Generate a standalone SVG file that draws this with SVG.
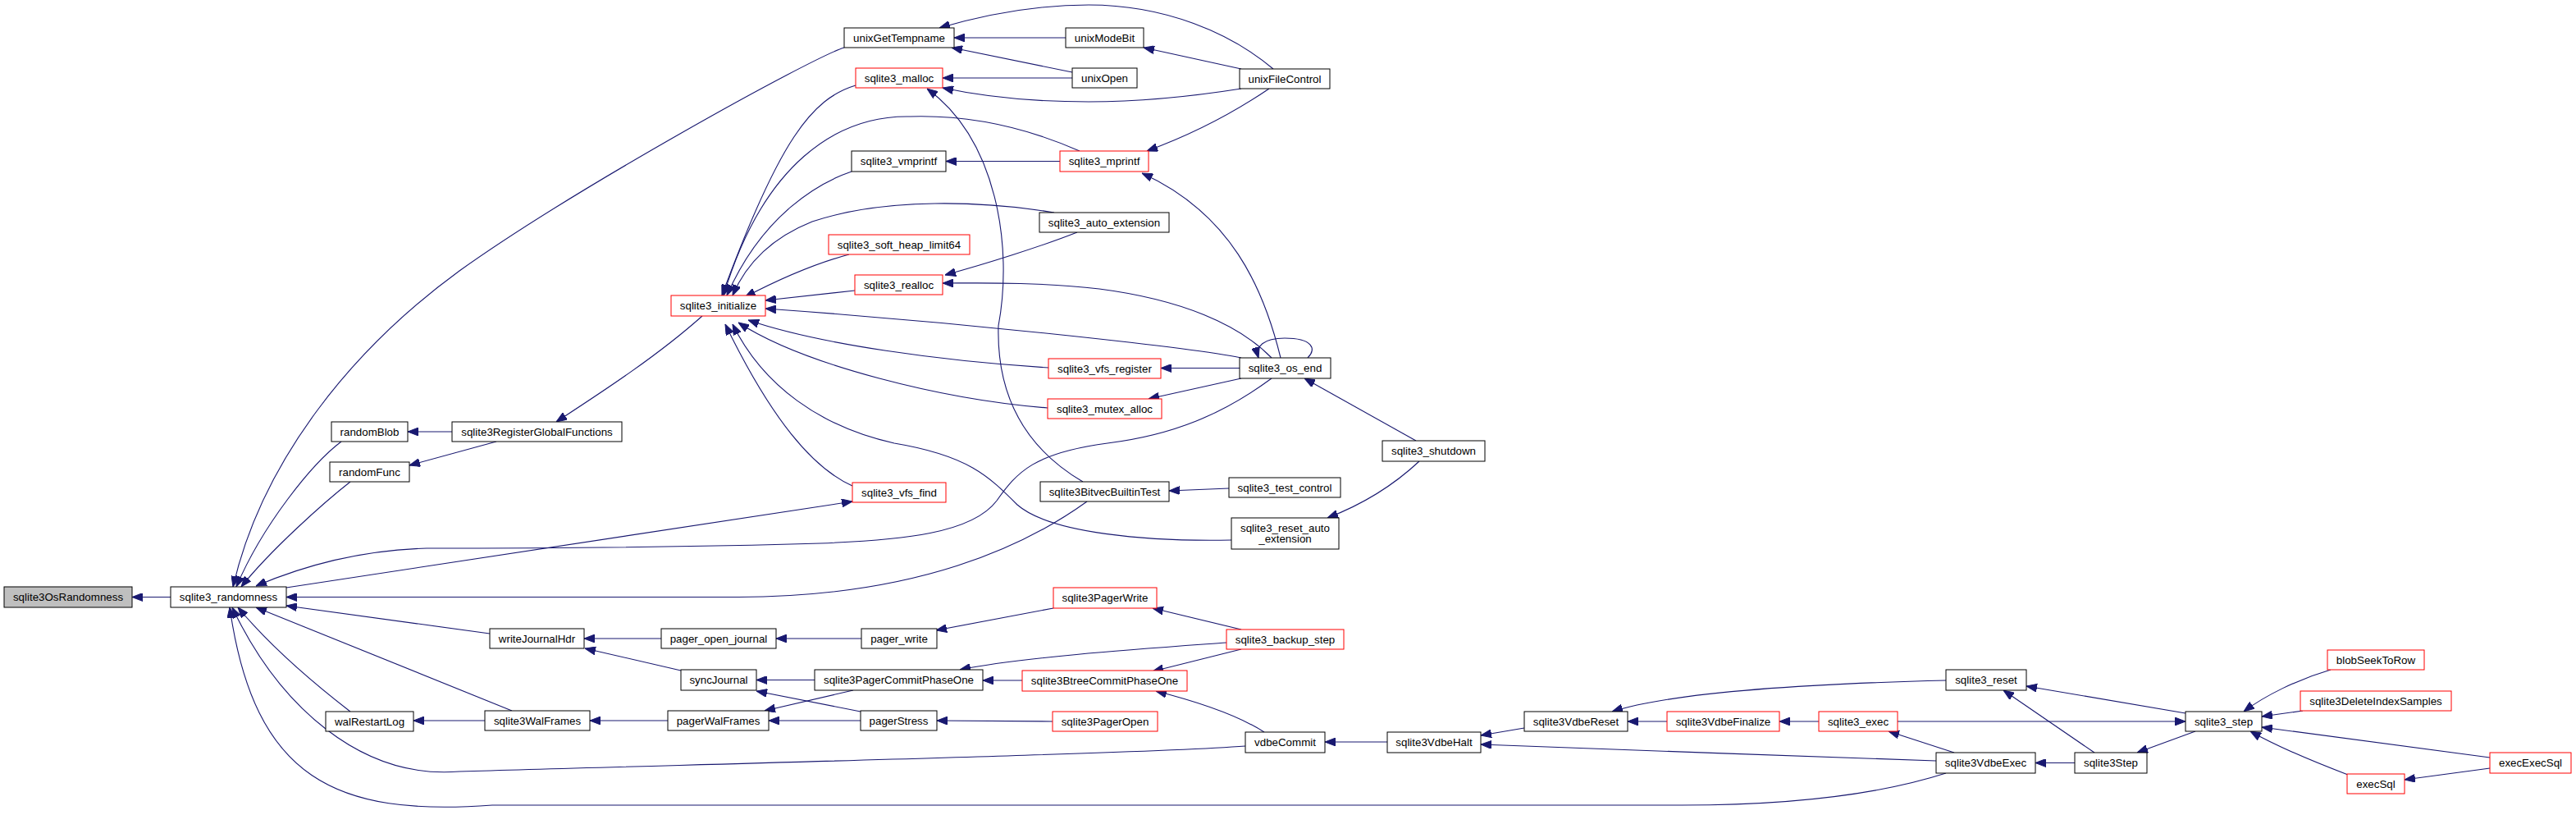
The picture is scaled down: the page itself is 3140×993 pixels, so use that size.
<svg xmlns="http://www.w3.org/2000/svg" width="3140" height="993" viewBox="0 0 3140 993">
<style>
.n rect{fill:#fff;stroke:#000;stroke-width:1}
.n.r rect{stroke:#ff0000}
.n.g rect{fill:#bfbfbf}
.n text{font-family:"Liberation Sans",Arial,sans-serif;font-size:13.33px;text-anchor:middle;fill:#000}
.e path{fill:none;stroke:#191970;stroke-width:1.1;marker-end:url(#ah)}
</style>
<defs>
<marker id="ah" viewBox="0 0 13 10" refX="13" refY="5" markerWidth="13" markerHeight="10" markerUnits="userSpaceOnUse" orient="auto"><path d="M0,0L13,5L0,10z" fill="#191970" stroke="#191970" stroke-width="1"/></marker>
</defs>
<rect width="3140" height="993" fill="#fff"/>
<g id="edges" class="e">
<path d="M208,727.5 L161,727.5"/>
<path d="M416,538 C380,565 320,640 288,715"/>
<path d="M427,587 C395,612 330,670 294,715"/>
<path d="M1029,58 C990,70 700,230 560,330 C430,425 320,560 284,715"/>
<path d="M1550,461 C1490,505 1430,530 1350,540 C1260,552 1240,575 1215,610 C1185,650 1100,658 1000,662 C800,668 600,668 520,668 C450,670 380,685 312,714"/>
<path d="M349,716 L1039,611"/>
<path d="M1325,611 C1250,665 1120,727 900,727.5 L349,727.5"/>
<path d="M597,772 L349,738"/>
<path d="M624,866 L312,740"/>
<path d="M427,867 C405,850 340,800 290,740"/>
<path d="M1518,909 C1400,918 900,930 560,940 C440,950 340,860 283,740"/>
<path d="M2372,942 C2300,965 2200,981 2050,981 L600,981 C410,995 310,950 280,740"/>
<path d="M551,526 L497,526"/>
<path d="M605,538 L499,567"/>
<path d="M856,385 C800,435 730,480 678,514"/>
<path d="M806,778 L712,778"/>
<path d="M830,817 L713,790"/>
<path d="M1050,778 L946,778"/>
<path d="M1284,741 L1141,768"/>
<path d="M993,828.5 L922,828.5"/>
<path d="M1049,867 L922,842"/>
<path d="M1040,841 L932,866"/>
<path d="M1049,878 L937,878"/>
<path d="M814,878 L719,878"/>
<path d="M591,878 L504,878"/>
<path d="M1283,879 L1142,878"/>
<path d="M1246,829 L1198,829"/>
<path d="M1495,783 C1400,790 1250,800 1170,816"/>
<path d="M1513,767 L1405,741"/>
<path d="M1513,791 L1405,818"/>
<path d="M1541,892 C1510,872 1460,855 1409,842"/>
<path d="M1691,904 L1615,904"/>
<path d="M1858,887 L1805,896"/>
<path d="M2360,927 C2200,922 1950,912 1805,907"/>
<path d="M2032,879 L1984,879"/>
<path d="M2372,829 C2250,832 2050,840 1965,867"/>
<path d="M2217,879 L2169,879"/>
<path d="M2382,917 L2302,891"/>
<path d="M2313,879 L2664,879"/>
<path d="M2664,869 L2470,836"/>
<path d="M2553,917 L2442,841"/>
<path d="M2529,929.5 L2481,929.5"/>
<path d="M2676,891 L2605,917"/>
<path d="M2841,816 C2800,828 2760,848 2735,867"/>
<path d="M2807,866 L2757,873"/>
<path d="M3035,923 L2757,886"/>
<path d="M2862,944 C2820,928 2780,912 2743,891"/>
<path d="M3035,936 L2931,950"/>
<path d="M1299,46 L1163,46"/>
<path d="M1307,88 L1160,58"/>
<path d="M1552,84 C1500,40 1420,6 1327,6 C1260,6 1200,18 1145,34"/>
<path d="M1513,84 L1394,58"/>
<path d="M1307,95 L1149,95"/>
<path d="M1513,108 C1450,118 1390,124 1327,124 C1260,124 1200,118 1149,107"/>
<path d="M1547,108 C1500,140 1450,165 1398,184"/>
<path d="M1292,196.5 L1153,196.5"/>
<path d="M1316,184 C1250,155 1180,140 1110,142 C1020,140 930,200 882,360"/>
<path d="M1561,436 C1540,350 1500,260 1392,211"/>
<path d="M1043,104 C990,120 950,170 880,360"/>
<path d="M1038,209 C1000,222 930,260 886,360"/>
<path d="M1285,259 C1200,245 1080,240 990,270 C940,290 910,320 893,360"/>
<path d="M1035,310 C990,322 950,340 908,362"/>
<path d="M1042,354 L933,366"/>
<path d="M1513,436 C1460,425 1200,395 933,376"/>
<path d="M1278,448 C1150,440 1000,420 912,390"/>
<path d="M1277,497 C1150,487 980,445 900,393"/>
<path d="M1501,658 C1400,660 1280,650 1240,615 C1205,580 1180,555 1090,540 C1000,520 930,470 893,395"/>
<path d="M1039,592 C990,570 940,510 884,395"/>
<path d="M1320,587 C1240,540 1215,470 1217,397 C1235,300 1215,170 1130,108"/>
<path d="M1313,283 C1270,300 1200,322 1152,335"/>
<path d="M1550,436 C1510,395 1440,365 1340,352 C1260,343 1190,345 1149,345"/>
<path d="M1511,448.5 L1415,448.5"/>
<path d="M1513,461 L1400,486"/>
<path d="M1594,436 C1605,425 1600,412 1566,412 C1540,412 1530,422 1534,436"/>
<path d="M1726,537 L1590,461"/>
<path d="M1498,595 L1425,598"/>
<path d="M1730,562 C1700,590 1660,615 1618,631"/>
</g>
<g id="n_sqlite3OsRandomness" class="n g"><rect x="5" y="715" width="156" height="25"/><text x="83" y="732.1">sqlite3OsRandomness</text></g>
<g id="n_sqlite3_randomness" class="n"><rect x="208" y="715" width="141" height="25"/><text x="278.5" y="732.1">sqlite3_randomness</text></g>
<g id="n_randomBlob" class="n"><rect x="404" y="514" width="93" height="24"/><text x="450.5" y="530.6">randomBlob</text></g>
<g id="n_randomFunc" class="n"><rect x="402" y="563" width="97" height="24"/><text x="450.5" y="579.6">randomFunc</text></g>
<g id="n_walRestartLog" class="n"><rect x="397" y="867" width="107" height="24"/><text x="450.5" y="883.6">walRestartLog</text></g>
<g id="n_sqlite3RegisterGlobalFunctions" class="n"><rect x="551" y="514" width="207" height="24"/><text x="654.5" y="530.6">sqlite3RegisterGlobalFunctions</text></g>
<g id="n_writeJournalHdr" class="n"><rect x="597" y="766" width="115" height="24"/><text x="654.5" y="782.6">writeJournalHdr</text></g>
<g id="n_sqlite3WalFrames" class="n"><rect x="591" y="866" width="128" height="24"/><text x="655" y="882.6">sqlite3WalFrames</text></g>
<g id="n_sqlite3_initialize" class="n r"><rect x="818" y="360" width="115" height="25"/><text x="875.5" y="377.1">sqlite3_initialize</text></g>
<g id="n_pager_open_journal" class="n"><rect x="806" y="766" width="140" height="24"/><text x="876" y="782.6">pager_open_journal</text></g>
<g id="n_syncJournal" class="n"><rect x="830" y="816" width="92" height="25"/><text x="876" y="833.1">syncJournal</text></g>
<g id="n_pagerWalFrames" class="n"><rect x="814" y="866" width="123" height="24"/><text x="875.5" y="882.6">pagerWalFrames</text></g>
<g id="n_unixGetTempname" class="n"><rect x="1029" y="34" width="134" height="24"/><text x="1096" y="50.6">unixGetTempname</text></g>
<g id="n_sqlite3_malloc" class="n r"><rect x="1043" y="83" width="106" height="24"/><text x="1096" y="99.6">sqlite3_malloc</text></g>
<g id="n_sqlite3_vmprintf" class="n"><rect x="1038" y="184" width="115" height="25"/><text x="1095.5" y="201.1">sqlite3_vmprintf</text></g>
<g id="n_sqlite3_soft_heap_limit64" class="n r"><rect x="1010" y="286" width="172" height="24"/><text x="1096" y="302.6">sqlite3_soft_heap_limit64</text></g>
<g id="n_sqlite3_realloc" class="n r"><rect x="1042" y="335" width="107" height="24"/><text x="1095.5" y="351.6">sqlite3_realloc</text></g>
<g id="n_sqlite3_vfs_find" class="n r"><rect x="1039" y="588" width="114" height="24"/><text x="1096" y="604.6">sqlite3_vfs_find</text></g>
<g id="n_pager_write" class="n"><rect x="1050" y="766" width="92" height="24"/><text x="1096" y="782.6">pager_write</text></g>
<g id="n_sqlite3PagerCommitPhaseOne" class="n"><rect x="993" y="816" width="205" height="25"/><text x="1095.5" y="833.1">sqlite3PagerCommitPhaseOne</text></g>
<g id="n_pagerStress" class="n"><rect x="1049" y="866" width="93" height="24"/><text x="1095.5" y="882.6">pagerStress</text></g>
<g id="n_unixModeBit" class="n"><rect x="1299" y="34" width="95" height="24"/><text x="1346.5" y="50.6">unixModeBit</text></g>
<g id="n_unixOpen" class="n"><rect x="1307" y="83" width="79" height="24"/><text x="1346.5" y="99.6">unixOpen</text></g>
<g id="n_sqlite3_mprintf" class="n r"><rect x="1292" y="184" width="108" height="25"/><text x="1346" y="201.1">sqlite3_mprintf</text></g>
<g id="n_sqlite3_auto_extension" class="n"><rect x="1267" y="259" width="158" height="24"/><text x="1346" y="275.6">sqlite3_auto_extension</text></g>
<g id="n_sqlite3_vfs_register" class="n r"><rect x="1278" y="437" width="137" height="24"/><text x="1346.5" y="453.6">sqlite3_vfs_register</text></g>
<g id="n_sqlite3_mutex_alloc" class="n r"><rect x="1277" y="486" width="139" height="24"/><text x="1346.5" y="502.6">sqlite3_mutex_alloc</text></g>
<g id="n_sqlite3BitvecBuiltinTest" class="n"><rect x="1268" y="587" width="157" height="24"/><text x="1346.5" y="603.6">sqlite3BitvecBuiltinTest</text></g>
<g id="n_sqlite3PagerWrite" class="n r"><rect x="1284" y="716" width="126" height="25"/><text x="1347" y="733.1">sqlite3PagerWrite</text></g>
<g id="n_sqlite3BtreeCommitPhaseOne" class="n r"><rect x="1246" y="817" width="201" height="25"/><text x="1346.5" y="834.1">sqlite3BtreeCommitPhaseOne</text></g>
<g id="n_sqlite3PagerOpen" class="n r"><rect x="1283" y="867" width="128" height="24"/><text x="1347" y="883.6">sqlite3PagerOpen</text></g>
<g id="n_unixFileControl" class="n"><rect x="1511" y="84" width="110" height="24"/><text x="1566" y="100.6">unixFileControl</text></g>
<g id="n_sqlite3_os_end" class="n"><rect x="1511" y="436" width="111" height="25"/><text x="1566.5" y="453.1">sqlite3_os_end</text></g>
<g id="n_sqlite3_test_control" class="n"><rect x="1498" y="582" width="136" height="24"/><text x="1566" y="598.6">sqlite3_test_control</text></g>
<g id="n_sqlite3_reset_auto_extension" class="n"><rect x="1501" y="631" width="131" height="38"/><text x="1566.5" y="648.2">sqlite3_reset_auto</text><text x="1566.5" y="661.2">_extension</text></g>
<g id="n_sqlite3_backup_step" class="n r"><rect x="1495" y="767" width="143" height="24"/><text x="1566.5" y="783.6">sqlite3_backup_step</text></g>
<g id="n_vdbeCommit" class="n"><rect x="1518" y="892" width="97" height="25"/><text x="1566.5" y="909.1">vdbeCommit</text></g>
<g id="n_sqlite3_shutdown" class="n"><rect x="1685" y="537" width="125" height="25"/><text x="1747.5" y="554.1">sqlite3_shutdown</text></g>
<g id="n_sqlite3VdbeHalt" class="n"><rect x="1691" y="892" width="114" height="25"/><text x="1748" y="909.1">sqlite3VdbeHalt</text></g>
<g id="n_sqlite3VdbeReset" class="n"><rect x="1858" y="867" width="126" height="24"/><text x="1921" y="883.6">sqlite3VdbeReset</text></g>
<g id="n_sqlite3VdbeFinalize" class="n r"><rect x="2032" y="867" width="137" height="24"/><text x="2100.5" y="883.6">sqlite3VdbeFinalize</text></g>
<g id="n_sqlite3_exec" class="n r"><rect x="2217" y="867" width="96" height="24"/><text x="2265" y="883.6">sqlite3_exec</text></g>
<g id="n_sqlite3_reset" class="n"><rect x="2372" y="816" width="98" height="25"/><text x="2421" y="833.1">sqlite3_reset</text></g>
<g id="n_sqlite3VdbeExec" class="n"><rect x="2360" y="917" width="121" height="25"/><text x="2420.5" y="934.1">sqlite3VdbeExec</text></g>
<g id="n_sqlite3Step" class="n"><rect x="2529" y="917" width="88" height="25"/><text x="2573" y="934.1">sqlite3Step</text></g>
<g id="n_sqlite3_step" class="n"><rect x="2664" y="867" width="93" height="24"/><text x="2710.5" y="883.6">sqlite3_step</text></g>
<g id="n_blobSeekToRow" class="n r"><rect x="2837" y="792" width="118" height="24"/><text x="2896" y="808.6">blobSeekToRow</text></g>
<g id="n_sqlite3DeleteIndexSamples" class="n r"><rect x="2804" y="842" width="184" height="24"/><text x="2896" y="858.6">sqlite3DeleteIndexSamples</text></g>
<g id="n_execSql" class="n r"><rect x="2861" y="943" width="70" height="24"/><text x="2896" y="959.6">execSql</text></g>
<g id="n_execExecSql" class="n r"><rect x="3035" y="917" width="99" height="25"/><text x="3084.5" y="934.1">execExecSql</text></g>
</svg>
